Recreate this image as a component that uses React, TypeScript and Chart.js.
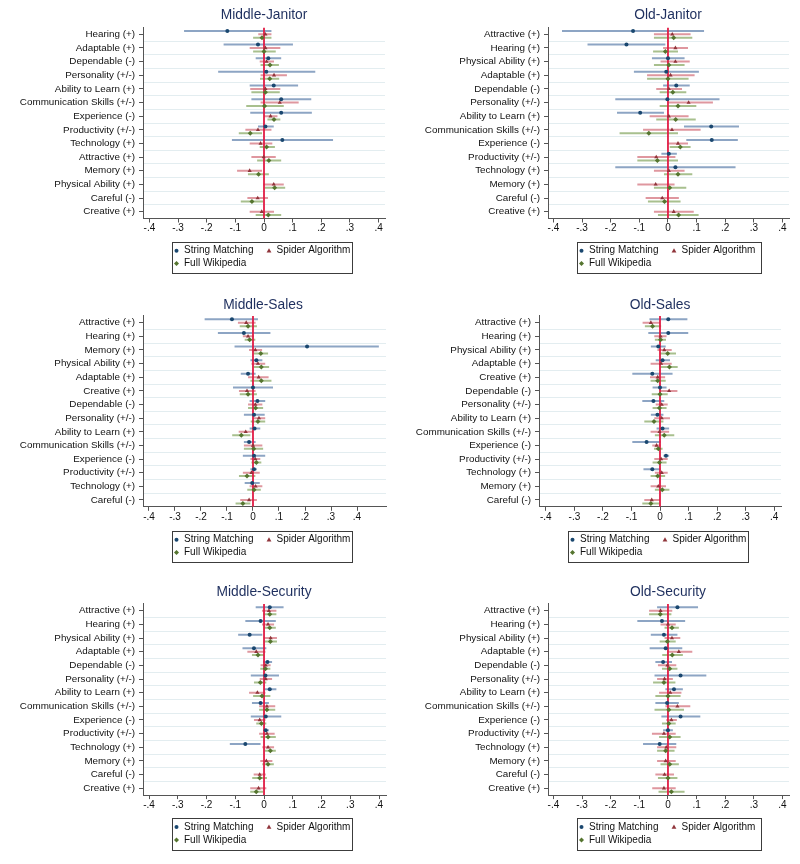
import React, { useEffect, useRef } from "react";
import { Chart, registerables } from "chart.js";

Chart.register(...registerables);

type Est = [number, number, number] | null; // [estimate, lower, upper]

const SERIES_NAMES = ["String Matching", "Spider Algorithm", "Full Wikipedia"];
const X_TICKS = [-0.4, -0.3, -0.2, -0.1, 0, 0.1, 0.2, 0.3, 0.4];
const X_TICK_LABELS = ["-.4", "-.3", "-.2", "-.1", "0", ".1", ".2", ".3", ".4"];

// ---------- Middle-Janitor ----------
const middleJanitorCats = [
  "Hearing (+)", "Adaptable (+)", "Dependable (-)", "Personality (+/-)", "Ability to Learn (+)",
  "Communication Skills (+/-)", "Experience (-)", "Productivity (+/-)", "Technology (+)",
  "Attractive (+)", "Memory (+)", "Physical Ability (+)", "Careful (-)", "Creative (+)",
];
const middleJanitorString: Est[] = [
  [-0.128, -0.279, 0.026], [-0.021, -0.141, 0.101], [0.015, -0.029, 0.06], [0.008, -0.16, 0.179],
  [0.034, -0.05, 0.119], [0.06, -0.044, 0.165], [0.06, -0.048, 0.167], [0.005, -0.021, 0.034],
  [0.064, -0.112, 0.241], null, null, null, null, null,
];
const middleJanitorSpider: Est[] = [
  [0.005, -0.02, 0.026], [0.005, -0.05, 0.057], [0.009, -0.015, 0.035], [0.035, -0.012, 0.08],
  [0.005, -0.048, 0.057], [0.055, -0.012, 0.121], [0.023, 0, 0.047], [-0.021, -0.065, 0.026],
  [-0.012, -0.05, 0.029], [-0.001, -0.044, 0.041], [-0.05, -0.094, -0.007], [0.034, -0.003, 0.069],
  [-0.022, -0.058, 0.014], [-0.008, -0.05, 0.035],
];
const middleJanitorWiki: Est[] = [
  [-0.007, -0.038, 0.026], [0, -0.038, 0.041], [0.021, -0.012, 0.052], [0.02, -0.014, 0.053],
  [0.005, -0.044, 0.055], [0.002, -0.062, 0.069], [0.035, 0.012, 0.057], [-0.048, -0.088, -0.007],
  [0.009, -0.015, 0.038], [0.017, -0.024, 0.06], [-0.019, -0.056, 0.017], [0.037, 0.002, 0.074],
  [-0.042, -0.081, -0.003], [0.015, -0.029, 0.06],
];

// ---------- Old-Janitor ----------
const oldJanitorCats = [
  "Attractive (+)", "Hearing (+)", "Physical Ability (+)", "Adaptable (+)", "Dependable (-)",
  "Personality (+/-)", "Ability to Learn (+)", "Communication Skills (+/-)", "Experience (-)",
  "Productivity (+/-)", "Technology (+)", "Memory (+)", "Careful (-)", "Creative (+)",
];
const oldJanitorString: Est[] = [
  [-0.122, -0.37, 0.126], [-0.145, -0.281, -0.009], [0, -0.056, 0.058], [-0.006, -0.119, 0.108],
  [0.029, -0.017, 0.076], [-0.002, -0.184, 0.18], [-0.097, -0.178, -0.014], [0.151, 0.056, 0.248],
  [0.153, 0.064, 0.244], [0.003, -0.023, 0.031], [0.026, -0.184, 0.236], null, null, null,
];
const oldJanitorSpider: Est[] = [
  [0.015, -0.049, 0.079], [0.026, -0.017, 0.07], [0.026, -0.026, 0.076], [0.009, -0.073, 0.093],
  [0.003, -0.041, 0.049], [0.072, 0, 0.157], [0.003, -0.064, 0.072], [0.014, -0.087, 0.114],
  [0.035, 0, 0.07], [-0.041, -0.107, 0.026], [0.003, -0.049, 0.058], [-0.043, -0.107, 0.023],
  [-0.02, -0.078, 0.038], [0.02, -0.049, 0.09],
];
const oldJanitorWiki: Est[] = [
  [0.02, -0.049, 0.085], [-0.009, -0.052, 0.035], [0.003, -0.049, 0.058], [0, -0.073, 0.072],
  [0.017, -0.029, 0.064], [0.035, -0.029, 0.099], [0.027, -0.041, 0.097], [-0.067, -0.169, 0.035],
  [0.043, 0.006, 0.079], [-0.037, -0.107, 0.035], [0.035, -0.014, 0.085], [0.006, -0.049, 0.064],
  [-0.012, -0.07, 0.044], [0.037, -0.035, 0.107],
];

// ---------- Middle-Sales ----------
const middleSalesCats = [
  "Attractive (+)", "Hearing (+)", "Memory (+)", "Physical Ability (+)", "Adaptable (+)",
  "Creative (+)", "Dependable (-)", "Personality (+/-)", "Ability to Learn (+)",
  "Communication Skills (+/-)", "Experience (-)", "Productivity (+/-)", "Technology (+)", "Careful (-)",
];
const middleSalesString: Est[] = [
  [-0.081, -0.186, 0.019], [-0.035, -0.135, 0.067], [0.208, -0.071, 0.484], [0.013, -0.01, 0.036],
  [-0.019, -0.047, 0.01], [0, -0.077, 0.077], [0.017, -0.013, 0.047], [0.004, -0.035, 0.045],
  [0.006, -0.013, 0.028], [-0.015, -0.035, 0.01], [0.004, -0.039, 0.047], [0.004, -0.01, 0.015],
  [-0.003, -0.032, 0.026], null,
];
const middleSalesSpider: Est[] = [
  [-0.026, -0.058, 0.01], [-0.019, -0.039, 0.004], [0.009, -0.015, 0.035], [0.019, -0.006, 0.047],
  [0.022, -0.019, 0.06], [-0.023, -0.054, 0.01], [0.009, -0.019, 0.036], [0.023, 0, 0.047],
  [-0.028, -0.055, 0], [0, -0.035, 0.036], [0.009, -0.01, 0.028], [-0.006, -0.039, 0.026],
  [0.01, -0.013, 0.036], [-0.015, -0.049, 0.015],
];
const middleSalesWiki: Est[] = [
  [-0.019, -0.051, 0.015], [-0.013, -0.032, 0.009], [0.03, 0.003, 0.058], [0.032, 0.003, 0.062],
  [0.032, -0.01, 0.071], [-0.019, -0.051, 0.015], [0.01, -0.019, 0.039], [0.019, -0.009, 0.047],
  [-0.045, -0.08, -0.01], [0.003, -0.035, 0.039], [0.013, -0.006, 0.032], [-0.023, -0.054, 0.009],
  [0.004, -0.022, 0.03], [-0.039, -0.067, -0.01],
];

// ---------- Old-Sales ----------
const oldSalesCats = [
  "Attractive (+)", "Hearing (+)", "Physical Ability (+)", "Adaptable (+)", "Creative (+)",
  "Dependable (-)", "Personality (+/-)", "Ability to Learn (+)", "Communication Skills (+/-)",
  "Experience (-)", "Productivity (+/-)", "Technology (+)", "Memory (+)", "Careful (-)",
];
const oldSalesString: Est[] = [
  [0.029, -0.037, 0.096], [0.029, -0.041, 0.099], [-0.006, -0.032, 0.02], [0.009, -0.015, 0.035],
  [-0.027, -0.097, 0.044], [0, -0.026, 0.023], [-0.023, -0.062, 0.015], [-0.009, -0.032, 0.012],
  [0.009, -0.012, 0.032], [-0.047, -0.097, 0.002], [0.021, 0.012, 0.032], [-0.027, -0.058, 0.002],
  null, null,
];
const oldSalesSpider: Est[] = [
  [-0.032, -0.061, 0], [0.002, -0.02, 0.023], [0.015, -0.009, 0.041], [0.004, -0.033, 0.041],
  [-0.008, -0.035, 0.018], [0.032, 0, 0.061], [0.006, -0.015, 0.027], [0.006, -0.02, 0.035],
  [-0.002, -0.033, 0.032], [-0.012, -0.027, 0.002], [0.004, -0.02, 0.027], [0.006, -0.018, 0.027],
  [-0.006, -0.033, 0.021], [-0.029, -0.055, 0],
];
const oldSalesWiki: Est[] = [
  [-0.026, -0.053, 0.004], [0.002, -0.018, 0.021], [0.027, 0, 0.056], [0.033, 0.002, 0.062],
  [-0.008, -0.033, 0.02], [0, -0.029, 0.027], [-0.002, -0.026, 0.023], [-0.021, -0.055, 0.012],
  [0.015, -0.018, 0.05], [-0.006, -0.021, 0.009], [-0.002, -0.026, 0.023], [-0.008, -0.033, 0.018],
  [0.008, -0.018, 0.033], [-0.032, -0.062, 0],
];

// ---------- Middle-Security ----------
const middleSecurityCats = [
  "Attractive (+)", "Hearing (+)", "Physical Ability (+)", "Adaptable (+)", "Dependable (-)",
  "Personality (+/-)", "Ability to Learn (+)", "Communication Skills (+/-)", "Experience (-)",
  "Productivity (+/-)", "Technology (+)", "Memory (+)", "Careful (-)", "Creative (+)",
];
const middleSecurityString: Est[] = [
  [0.02, -0.029, 0.068], [-0.012, -0.065, 0.041], [-0.05, -0.09, -0.006], [-0.035, -0.075, 0.008],
  [0.012, -0.003, 0.028], [0.005, -0.046, 0.052], [0.02, 0, 0.043], [-0.012, -0.042, 0.017],
  [0.006, -0.046, 0.06], [0.006, -0.003, 0.017], [-0.065, -0.119, -0.012], null, null, null,
];
const middleSecuritySpider: Est[] = [
  [0.017, -0.007, 0.043], [0.014, -0.007, 0.035], [0.023, -0.001, 0.045], [-0.027, -0.058, 0.005],
  [0.006, -0.012, 0.023], [0.006, -0.015, 0.028], [-0.023, -0.052, 0.005], [0.01, -0.017, 0.039],
  [-0.015, -0.035, 0.005], [0.01, -0.017, 0.037], [0.014, -0.006, 0.035], [0.008, -0.013, 0.029],
  [-0.015, -0.036, 0.006], [-0.019, -0.048, 0.008],
];
const middleSecurityWiki: Est[] = [
  [0.02, -0.003, 0.043], [0.02, 0, 0.041], [0.022, -0.001, 0.045], [-0.021, -0.042, 0],
  [0.005, -0.013, 0.022], [-0.013, -0.035, 0.008], [-0.007, -0.038, 0.022], [0.01, -0.017, 0.039],
  [-0.009, -0.027, 0.008], [0.014, -0.012, 0.041], [0.022, 0.002, 0.041], [0.014, -0.006, 0.034],
  [-0.015, -0.041, 0.01], [-0.027, -0.048, -0.003],
];

// ---------- Old-Security ----------
const oldSecurityCats = [
  "Attractive (+)", "Hearing (+)", "Physical Ability (+)", "Adaptable (+)", "Dependable (-)",
  "Personality (+/-)", "Ability to Learn (+)", "Communication Skills (+/-)", "Experience (-)",
  "Productivity (+/-)", "Technology (+)", "Memory (+)", "Careful (-)", "Creative (+)",
];
const oldSecurityString: Est[] = [
  [0.033, -0.038, 0.105], [-0.021, -0.107, 0.06], [-0.014, -0.06, 0.033], [-0.008, -0.064, 0.05],
  [-0.017, -0.044, 0.014], [0.044, -0.047, 0.134], [0.021, -0.009, 0.052], [-0.003, -0.044, 0.038],
  [0.044, -0.023, 0.113], [0, -0.017, 0.017], [-0.029, -0.087, 0.029], null, null, null,
];
const oldSecuritySpider: Est[] = [
  [-0.026, -0.066, 0.015], [0, -0.026, 0.027], [0.014, -0.012, 0.043], [0.038, -0.002, 0.085],
  [-0.002, -0.035, 0.029], [-0.012, -0.038, 0.017], [0.008, -0.031, 0.047], [0.033, -0.009, 0.078],
  [0.012, -0.006, 0.031], [-0.014, -0.056, 0.027], [-0.006, -0.038, 0.029], [-0.008, -0.038, 0.027],
  [-0.012, -0.044, 0.021], [-0.014, -0.055, 0.027],
];
const oldSecurityWiki: Est[] = [
  [-0.027, -0.066, 0.012], [0.014, -0.012, 0.038], [-0.002, -0.029, 0.027], [0.015, -0.02, 0.052],
  [0.006, -0.021, 0.033], [-0.014, -0.052, 0.026], [0, -0.044, 0.044], [0.003, -0.047, 0.056],
  [0.003, -0.021, 0.027], [0.006, -0.031, 0.044], [-0.008, -0.038, 0.023], [0.006, -0.026, 0.038],
  [0, -0.035, 0.033], [0.012, -0.033, 0.058],
];

// ---------- styling / layout ----------
const FONT = "'Liberation Sans', Arial, Helvetica, sans-serif";
const AXIS_COLOR = "#555555";
const GRID_COLOR = "#e3edf0";
const TITLE_COLOR = "#1e2f5e";
const ZERO_COLOR = "#e11c45";

const SERIES_STYLE = [
  { marker: "#1a476f", ci: "#8da5c4", point: "circle", radius: 2, offset: -0.25 },
  { marker: "#90353b", ci: "#df979f", point: "triangle", radius: 2.4, offset: 0 },
  { marker: "#55752f", ci: "#a8c08e", point: "rectRot", radius: 2.5, offset: 0.25 },
];

type PanelCfg = {
  title: string; left: number; top: number; W: number; H: number;
  cats: string[]; series: Est[][];
  plotLeft: number; plotRight: number; plotTop: number; plotBottom: number;
  xMin: number; xMax: number; titleX: number; titleY: number;
  legend: { x: number; y: number; w: number; h: number };
};

const PANELS: PanelCfg[] = [
  {
    title: "Middle-Janitor", left: 0, top: 0, W: 400, H: 285,
    cats: middleJanitorCats, series: [middleJanitorString, middleJanitorSpider, middleJanitorWiki],
    plotLeft: 143, plotRight: 385, plotTop: 27.5, plotBottom: 218.5, xMin: -0.4223, xMax: 0.4223,
    titleX: 264, titleY: 15, legend: { x: 172, y: 242, w: 180, h: 31 },
  },
  {
    title: "Old-Janitor", left: 400, top: 0, W: 400, H: 285,
    cats: oldJanitorCats, series: [oldJanitorString, oldJanitorSpider, oldJanitorWiki],
    plotLeft: 148, plotRight: 389, plotTop: 27.5, plotBottom: 218.5, xMin: -0.419, xMax: 0.4227,
    titleX: 268, titleY: 15, legend: { x: 177, y: 242, w: 184, h: 31 },
  },
  {
    title: "Middle-Sales", left: 0, top: 285, W: 400, H: 290,
    cats: middleSalesCats, series: [middleSalesString, middleSalesSpider, middleSalesWiki],
    plotLeft: 143, plotRight: 386, plotTop: 30.9, plotBottom: 221.8, xMin: -0.423, xMax: 0.5115,
    titleX: 263, titleY: 20, legend: { x: 172, y: 246, w: 180, h: 31 },
  },
  {
    title: "Old-Sales", left: 400, top: 285, W: 400, H: 290,
    cats: oldSalesCats, series: [oldSalesString, oldSalesSpider, oldSalesWiki],
    plotLeft: 139, plotRight: 381, plotTop: 30.9, plotBottom: 221.8, xMin: -0.424, xMax: 0.424,
    titleX: 260, titleY: 20, legend: { x: 168, y: 246, w: 180, h: 31 },
  },
  {
    title: "Middle-Security", left: 0, top: 575, W: 400, H: 289,
    cats: middleSecurityCats, series: [middleSecurityString, middleSecuritySpider, middleSecurityWiki],
    plotLeft: 143, plotRight: 386, plotTop: 28.9, plotBottom: 220.1, xMin: -0.421, xMax: 0.4243,
    titleX: 264, titleY: 17, legend: { x: 172, y: 243, w: 180, h: 32 },
  },
  {
    title: "Old-Security", left: 400, top: 575, W: 400, H: 289,
    cats: oldSecurityCats, series: [oldSecurityString, oldSecuritySpider, oldSecurityWiki],
    plotLeft: 148, plotRight: 389, plotTop: 28.9, plotBottom: 220.1, xMin: -0.419, xMax: 0.4227,
    titleX: 268, titleY: 17, legend: { x: 177, y: 243, w: 184, h: 32 },
  },
];

function drawMarker(ctx: CanvasRenderingContext2D, kind: string, x: number, y: number, r: number, color: string) {
  ctx.fillStyle = color;
  ctx.beginPath();
  if (kind === "circle") {
    ctx.arc(x, y, r, 0, Math.PI * 2);
  } else if (kind === "triangle") {
    const h = r * 1.5;
    ctx.moveTo(x, y - h * 0.66);
    ctx.lineTo(x + r, y + h * 0.5);
    ctx.lineTo(x - r, y + h * 0.5);
    ctx.closePath();
  } else {
    ctx.moveTo(x, y - r);
    ctx.lineTo(x + r, y);
    ctx.lineTo(x, y + r);
    ctx.lineTo(x - r, y);
    ctx.closePath();
  }
  ctx.fill();
}

function Panel({ cfg }: { cfg: PanelCfg }) {
  const ref = useRef<HTMLCanvasElement | null>(null);

  useEffect(() => {
    if (!ref.current) return;
    const n = cfg.cats.length;
    const datasets: any[] = [];

    cfg.series.forEach((ser, s) => {
      const st = SERIES_STYLE[s];
      const ciData: any[] = [];
      const ptData: any[] = [];
      ser.forEach((e, i) => {
        if (!e) return;
        const y = i + st.offset;
        ciData.push({ x: e[1], y }, { x: e[2], y }, { x: null, y: null });
        ptData.push({ x: e[0], y });
      });
      datasets.push({
        type: "line", label: SERIES_NAMES[s] + " CI", data: ciData,
        borderColor: st.ci, borderWidth: 2, pointRadius: 0, spanGaps: false,
        fill: false, tension: 0, borderCapStyle: "butt", order: 3,
      });
      datasets.push({
        type: "scatter", label: SERIES_NAMES[s], data: ptData,
        backgroundColor: st.marker, borderColor: st.marker, borderWidth: 0,
        pointStyle: st.point, pointRadius: st.radius, order: 0,
      });
    });

    datasets.push({
      type: "line", label: "zero", data: [{ x: 0, y: -0.5 }, { x: 0, y: n - 0.5 }],
      borderColor: ZERO_COLOR, borderWidth: 1.8, pointRadius: 0, fill: false, order: 1,
    });

    const decor = {
      id: "decor",
      afterDraw(chart: any) {
        const ctx: CanvasRenderingContext2D = chart.ctx;
        ctx.save();
        ctx.fillStyle = TITLE_COLOR;
        ctx.font = `13.8px ${FONT}`;
        ctx.textAlign = "center";
        ctx.textBaseline = "middle";
        ctx.fillText(cfg.title, cfg.titleX, cfg.titleY);

        const L = cfg.legend;
        ctx.strokeStyle = "#3c3c3c";
        ctx.lineWidth = 1;
        ctx.strokeRect(L.x + 0.5, L.y + 0.5, L.w, L.h);
        const rowY = [L.y + L.h * 0.28, L.y + L.h * 0.69];
        const items = [
          { col: 0, row: 0 },
          { col: 1, row: 0 },
          { col: 0, row: 1 },
        ];
        ctx.font = `10px ${FONT}`;
        ctx.textAlign = "left";
        items.forEach((it, s) => {
          const st = SERIES_STYLE[s];
          const mx = L.x + (it.col === 0 ? 4.5 : 97);
          const tx = L.x + (it.col === 0 ? 12 : 104.5);
          const y = rowY[it.row];
          drawMarker(ctx, st.point, mx, y, st.radius, st.marker);
          ctx.fillStyle = "#111111";
          ctx.fillText(SERIES_NAMES[s], tx, y);
        });
        ctx.restore();
      },
    };

    const chart = new Chart(ref.current, {
      type: "scatter",
      data: { datasets },
      options: {
        animation: false,
        responsive: false,
        devicePixelRatio: 1,
        events: [],
        layout: {
          padding: {
            top: cfg.plotTop,
            left: 0,
            right: cfg.W - cfg.plotRight,
            bottom: cfg.H - cfg.plotBottom - 20,
          },
        },
        plugins: {
          legend: { display: false },
          title: { display: false },
          tooltip: { enabled: false },
        },
        scales: {
          x: {
            type: "linear",
            min: cfg.xMin,
            max: cfg.xMax,
            afterBuildTicks: (scale: any) => {
              scale.ticks = X_TICKS.map((v) => ({ value: v }));
            },
            afterFit: (scale: any) => {
              scale.height = 20;
            },
            ticks: {
              autoSkip: false,
              maxRotation: 0,
              padding: 0,
              color: "#111111",
              font: { family: FONT, size: 10 },
              callback: (v: any) => {
                const idx = X_TICKS.findIndex((t) => Math.abs(t - Number(v)) < 1e-9);
                return idx >= 0 ? X_TICK_LABELS[idx] : "";
              },
            },
            grid: {
              display: true,
              drawOnChartArea: false,
              drawTicks: true,
              tickLength: 4,
              color: AXIS_COLOR,
              tickColor: AXIS_COLOR,
            },
            border: { display: true, color: AXIS_COLOR, width: 1 },
          },
          y: {
            type: "linear",
            reverse: true,
            min: -0.5,
            max: n - 0.5,
            afterBuildTicks: (scale: any) => {
              const t: any[] = [];
              for (let i = 0; i < n; i++) {
                t.push({ value: i });
                if (i < n - 1) t.push({ value: i + 0.5 });
              }
              scale.ticks = t;
            },
            afterFit: (scale: any) => {
              scale.width = cfg.plotLeft;
            },
            ticks: {
              autoSkip: false,
              padding: 4,
              color: "#111111",
              font: { family: FONT, size: 9.85 },
              callback: (v: any) => {
                const num = Number(v);
                return Number.isInteger(num) ? cfg.cats[num] : "";
              },
            },
            grid: {
              display: true,
              drawOnChartArea: true,
              drawTicks: true,
              tickLength: 4,
              color: (c: any) =>
                c.tick && Number.isInteger(c.tick.value) ? "rgba(0,0,0,0)" : GRID_COLOR,
              tickColor: (c: any) =>
                c.tick && Number.isInteger(c.tick.value) ? AXIS_COLOR : "rgba(0,0,0,0)",
            },
            border: { display: true, color: AXIS_COLOR, width: 1 },
          },
        },
      },
      plugins: [decor],
    } as any);

    return () => chart.destroy();
  }, [cfg]);

  return (
    <div style={{ position: "absolute", left: cfg.left, top: cfg.top, width: cfg.W, height: cfg.H }}>
      <canvas ref={ref} width={cfg.W} height={cfg.H} style={{ display: "block" }} />
    </div>
  );
}

export default function App() {
  return (
    <div
      style={{
        position: "absolute",
        left: 0,
        top: 0,
        width: 800,
        height: 864,
        background: "#ffffff",
        fontFamily: FONT,
      }}
    >
      {PANELS.map((p) => (
        <Panel key={p.title} cfg={p} />
      ))}
    </div>
  );
}
